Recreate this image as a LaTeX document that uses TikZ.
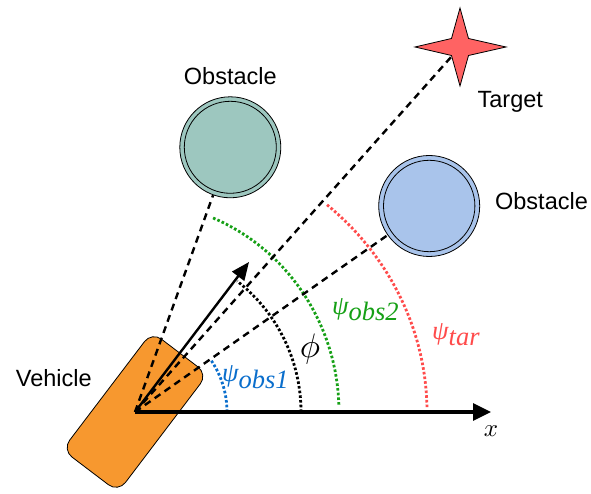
\documentclass[tikz,border=0pt]{standalone}
\usepackage{graphicx}
\usepackage{fontspec}
\setmainfont{Liberation Serif}
\newfontfamily\lab{Liberation Sans}
\usetikzlibrary{arrows.meta}
\definecolor{vehorange}{HTML}{F7982F}
\definecolor{obone}{HTML}{9DC7BF}
\definecolor{obtwo}{HTML}{A9C4EB}
\definecolor{starred}{HTML}{FF6363}
\definecolor{lblue}{HTML}{0A6ECC}
\definecolor{lgreen}{HTML}{16A016}
\definecolor{lred}{HTML}{FF4B4B}
\tikzset{
  sanslabel/.style={font=\lab\fontsize{23.5}{26}\selectfont, inner sep=0pt, anchor=base},
  mathlabel/.style={font=\fontsize{26.5}{29}\selectfont\itshape, inner sep=0pt, anchor=base west},
  sightline/.style={dashed, dash pattern=on 7pt off 5pt, line width=2.4pt},
  anglearc/.style={line width=2.8pt, dash pattern=on 2.6pt off 2.1pt},
  obstacle/.style={circle, draw, line width=0.8pt, minimum size=101pt, inner sep=0pt},
}
\begin{document}
\begin{tikzpicture}[x=1pt,y=1pt]
\useasboundingbox (0,0) rectangle (591,494);
\coordinate (O) at (135,82);
\coordinate (xend) at (491,82);
\coordinate (head) at (249,232);
\coordinate (tgt) at (460,447);
% vehicle
\node[draw, line width=0.8pt, fill=vehorange, rounded corners=12pt, minimum width=148pt, minimum height=70pt, rotate=52.8] (veh) at (O) {};
% angle arcs
\draw[anglearc, lblue] ([shift={(O)}]0:92pt) arc[start angle=0, end angle=35, radius=92pt];
\draw[anglearc, black] ([shift={(O)}]0:166pt) arc[start angle=0, end angle=52, radius=166pt];
\draw[anglearc, lgreen] ([shift={(O)}]2:204pt and 210pt) arc[start angle=2, end angle=67.5, x radius=204pt, y radius=210pt];
\draw[anglearc, lred] ([shift={(O)}]1:292pt and 275pt) arc[start angle=1, end angle=49, x radius=292pt, y radius=275pt];
% obstacles
\node[obstacle, fill=obone] (ob1) at (230.3,346.7) {};
\draw[line width=0.8pt] (ob1.center) circle (46pt);
\node[obstacle, fill=obtwo] (ob2) at (429.2,288) {};
\draw[line width=0.8pt] (ob2.center) circle (45.7pt);
% sight lines
\draw[sightline] (O) -- (ob1);
\draw[sightline] (O) -- (ob2);
\draw[sightline] (O) -- (tgt);
% target star
\draw[line width=0.8pt, fill=starred, line join=miter]
  (460,486) -- (468.5,455.5) -- (506,447) -- (468.5,438.5) -- (460,408)
  -- (451.5,438.5) -- (415,447) -- (451.5,455.5) -- cycle;
% axes / heading
\draw[line width=3.3pt, -{Triangle[length=18pt,width=17pt]}] (O) -- (xend);
\draw[line width=2.4pt, -{Triangle[length=18pt,width=15pt]}] (O) -- (head);
% labels
\node[sanslabel] (lob1) at (230.3,409) {Obstacle};
\node[sanslabel] (lob2) at (541.5,284) {Obstacle};
\node[sanslabel] (ltgt) at (510.3,386) {Target};
\node[sanslabel] (lveh) at (53.8,107) {Vehicle};
\node[inner sep=0pt, anchor=base] (lx) at (491,57) {\scalebox{2.5}{$x$}};
\node[mathlabel, lblue] (lpo1) at (222,112) {ψ\raisebox{-7pt}{obs1}};
\node[mathlabel, lgreen] (lpo2) at (332,179) {ψ\raisebox{-6pt}{obs2}};
\node[mathlabel, lred] (lpt) at (432,154) {ψ\raisebox{-6pt}{tar}};
\node[inner sep=0pt] (lphi) at (310,145) {\scalebox{3.4}{$\phi$}};
\end{tikzpicture}
\end{document}
